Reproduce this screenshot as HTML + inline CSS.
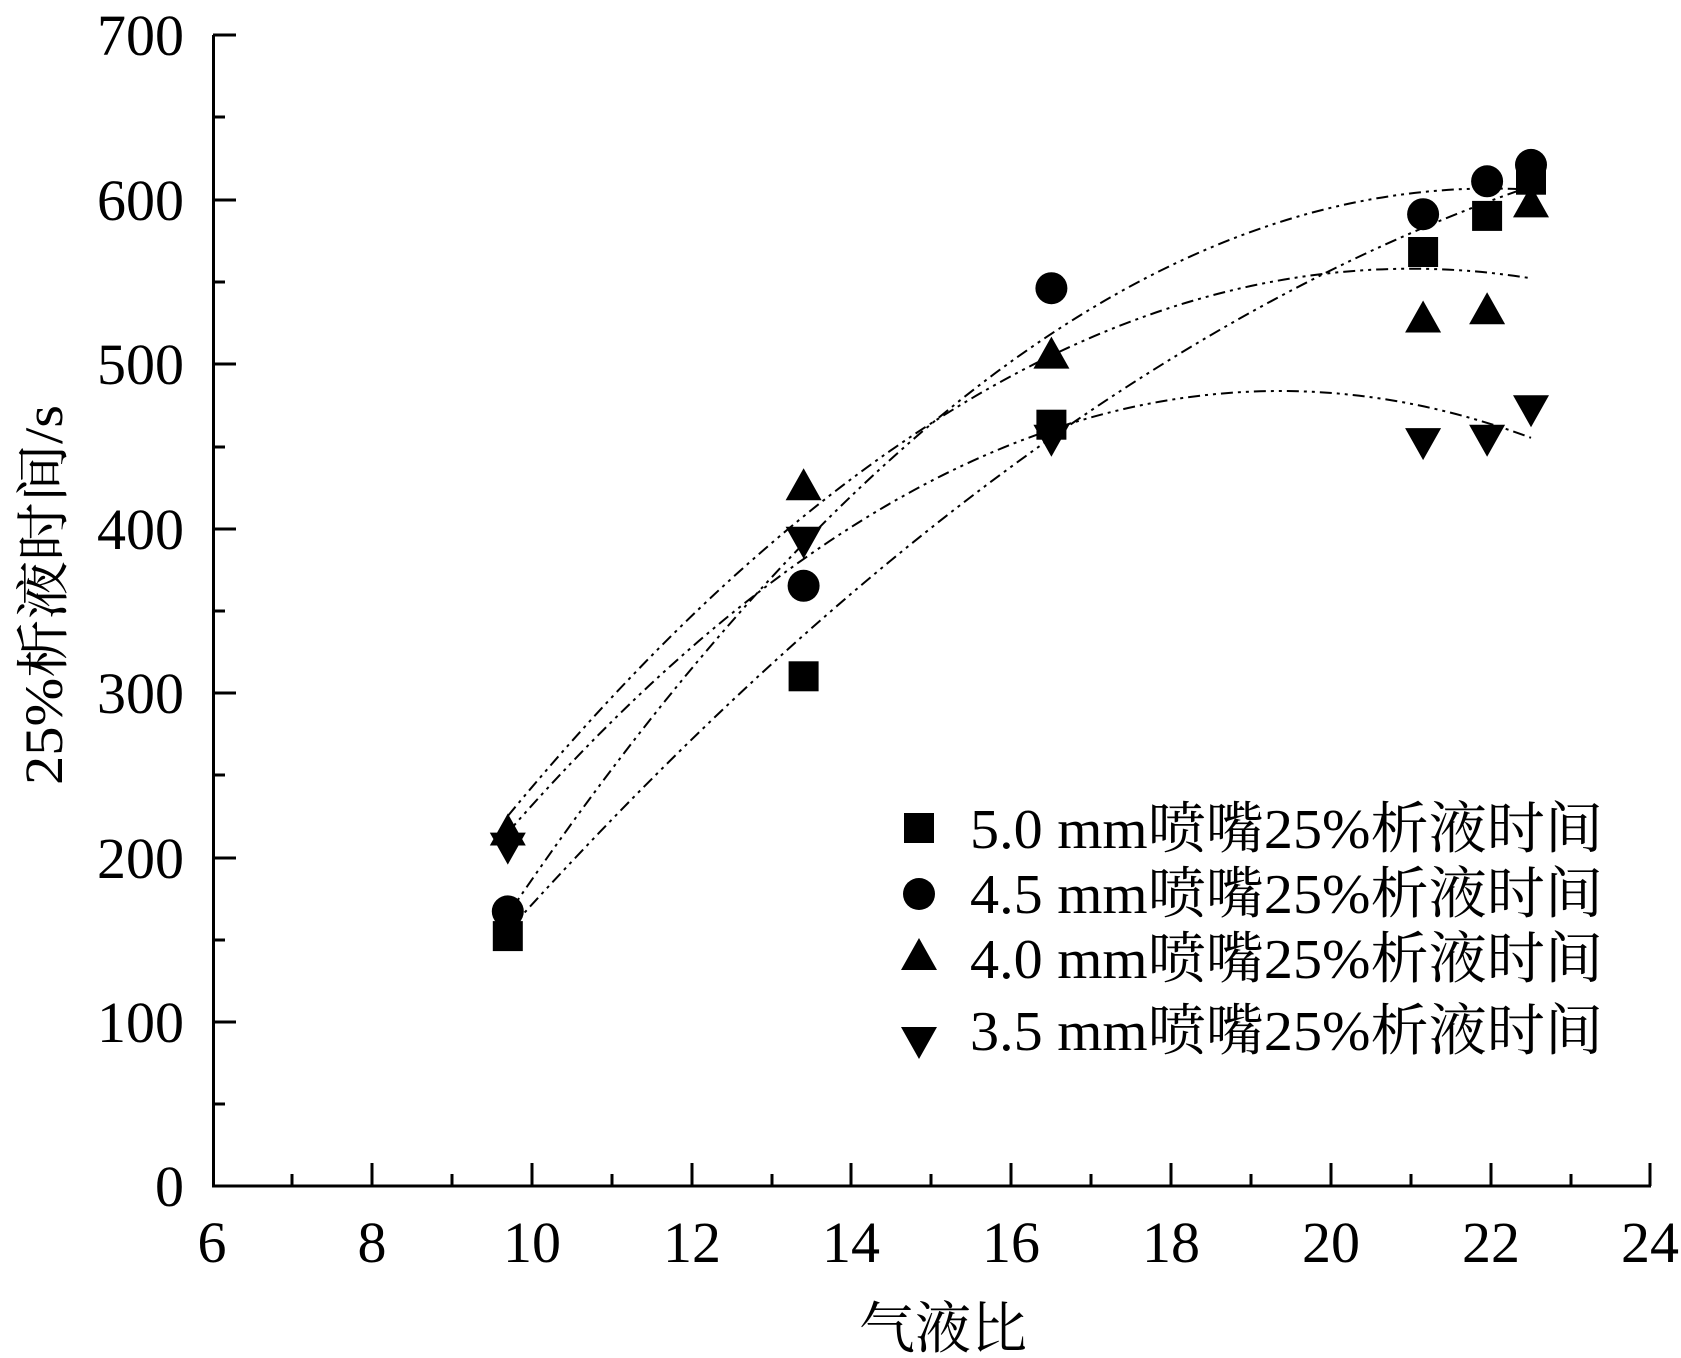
<!DOCTYPE html>
<html><head><meta charset="utf-8"><style>body{margin:0;background:#fff}svg{display:block}</style></head>
<body>
<svg width="1681" height="1358" viewBox="0 0 1681 1358" xmlns="http://www.w3.org/2000/svg" font-family="Liberation Serif, Noto Serif CJK SC, serif">
<g stroke="#000" stroke-width="3" fill="none">
<path d="M213.5 35 V1186 H1651"/>
<path d="M213 35h23M213 117h12M213 200h23M213 282h12M213 364h23M213 447h12M213 529h23M213 611h12M213 693h23M213 775h12M213 858h23M213 940h12M213 1022h23M213 1104h12"/>
<path d="M292 1186v-12M372 1186v-23M452 1186v-12M532 1186v-23M612 1186v-12M692 1186v-23M772 1186v-12M851 1186v-23M931 1186v-12M1011 1186v-23M1091 1186v-12M1171 1186v-23M1251 1186v-12M1331 1186v-23M1411 1186v-12M1491 1186v-23M1571 1186v-12M1650 1186v-23"/>
</g>
<g font-size="58" text-anchor="end">
<text x="184" y="55">700</text><text x="184" y="220">600</text><text x="184" y="384">500</text><text x="184" y="549">400</text><text x="184" y="713">300</text><text x="184" y="878">200</text><text x="184" y="1042">100</text><text x="184" y="1206">0</text>
</g>
<g font-size="58" text-anchor="middle">
<text x="212" y="1262">6</text><text x="372" y="1262">8</text><text x="532" y="1262">10</text><text x="692" y="1262">12</text><text x="851" y="1262">14</text><text x="1011" y="1262">16</text><text x="1171" y="1262">18</text><text x="1331" y="1262">20</text><text x="1491" y="1262">22</text><text x="1650" y="1262">24</text>
</g>
<text x="943" y="1348" font-size="56" text-anchor="middle">气液比</text>
<text transform="translate(62,595) rotate(-90)" font-size="54" text-anchor="middle" textLength="380" lengthAdjust="spacingAndGlyphs">25%析液时间/s</text>
<g stroke="#000" stroke-width="2" fill="none" stroke-dasharray="12 5 3 5 3 5">
<path d="M507.8 914.7 Q1019.4 159.1 1531 189.7"/>
<path d="M507.8 931.1 Q1019.4 362.7 1531 186.3"/>
<path d="M507.8 816 Q1019.4 196.3 1531 278.3"/>
<path d="M507.8 832.5 Q1019.4 247.3 1531 437.8"/>
</g>
<defs>
<rect id="sq" x="-15" y="-15" width="30" height="30"/>
<circle id="ci" r="16"/>
<path id="tu" d="M0 -19 L18 13 L-18 13Z"/>
<path id="td" d="M0 19 L18 -13 L-18 -13Z"/>
</defs>
<g fill="#000">
<use href="#td" x="507.8" y="845.6"/><use href="#td" x="803.6" y="539.8"/><use href="#td" x="1051.4" y="437.8"/><use href="#td" x="1423.1" y="441.1"/><use href="#td" x="1487.1" y="437.8"/><use href="#td" x="1531" y="408.2"/>
<use href="#tu" x="507.8" y="832.5"/><use href="#tu" x="803.6" y="487.2"/><use href="#tu" x="1051.4" y="355.6"/><use href="#tu" x="1423.1" y="319.5"/><use href="#tu" x="1487.1" y="311.2"/><use href="#tu" x="1531" y="204.4"/>
<use href="#sq" x="507.8" y="936.1"/><use href="#sq" x="803.6" y="676.3"/><use href="#sq" x="1051.4" y="424.7"/><use href="#sq" x="1423.1" y="252"/><use href="#sq" x="1487.1" y="215.9"/><use href="#sq" x="1531" y="179.7"/>
<use href="#ci" x="507.8" y="911.4"/><use href="#ci" x="803.6" y="585.8"/><use href="#ci" x="1051.4" y="288.2"/><use href="#ci" x="1423.1" y="214.2"/><use href="#ci" x="1487.1" y="181.3"/><use href="#ci" x="1531" y="164.9"/>
<use href="#sq" x="919" y="828"/><use href="#ci" x="919" y="894"/><use href="#tu" x="919" y="957"/><use href="#td" x="919" y="1040"/>
</g>
<g font-size="56">
<text x="970" y="848" textLength="633" lengthAdjust="spacingAndGlyphs">5.0 mm喷嘴25%析液时间</text>
<text x="970" y="913" textLength="633" lengthAdjust="spacingAndGlyphs">4.5 mm喷嘴25%析液时间</text>
<text x="970" y="978" textLength="633" lengthAdjust="spacingAndGlyphs">4.0 mm喷嘴25%析液时间</text>
<text x="970" y="1050" textLength="633" lengthAdjust="spacingAndGlyphs">3.5 mm喷嘴25%析液时间</text>
</g>
</svg>
</body></html>
